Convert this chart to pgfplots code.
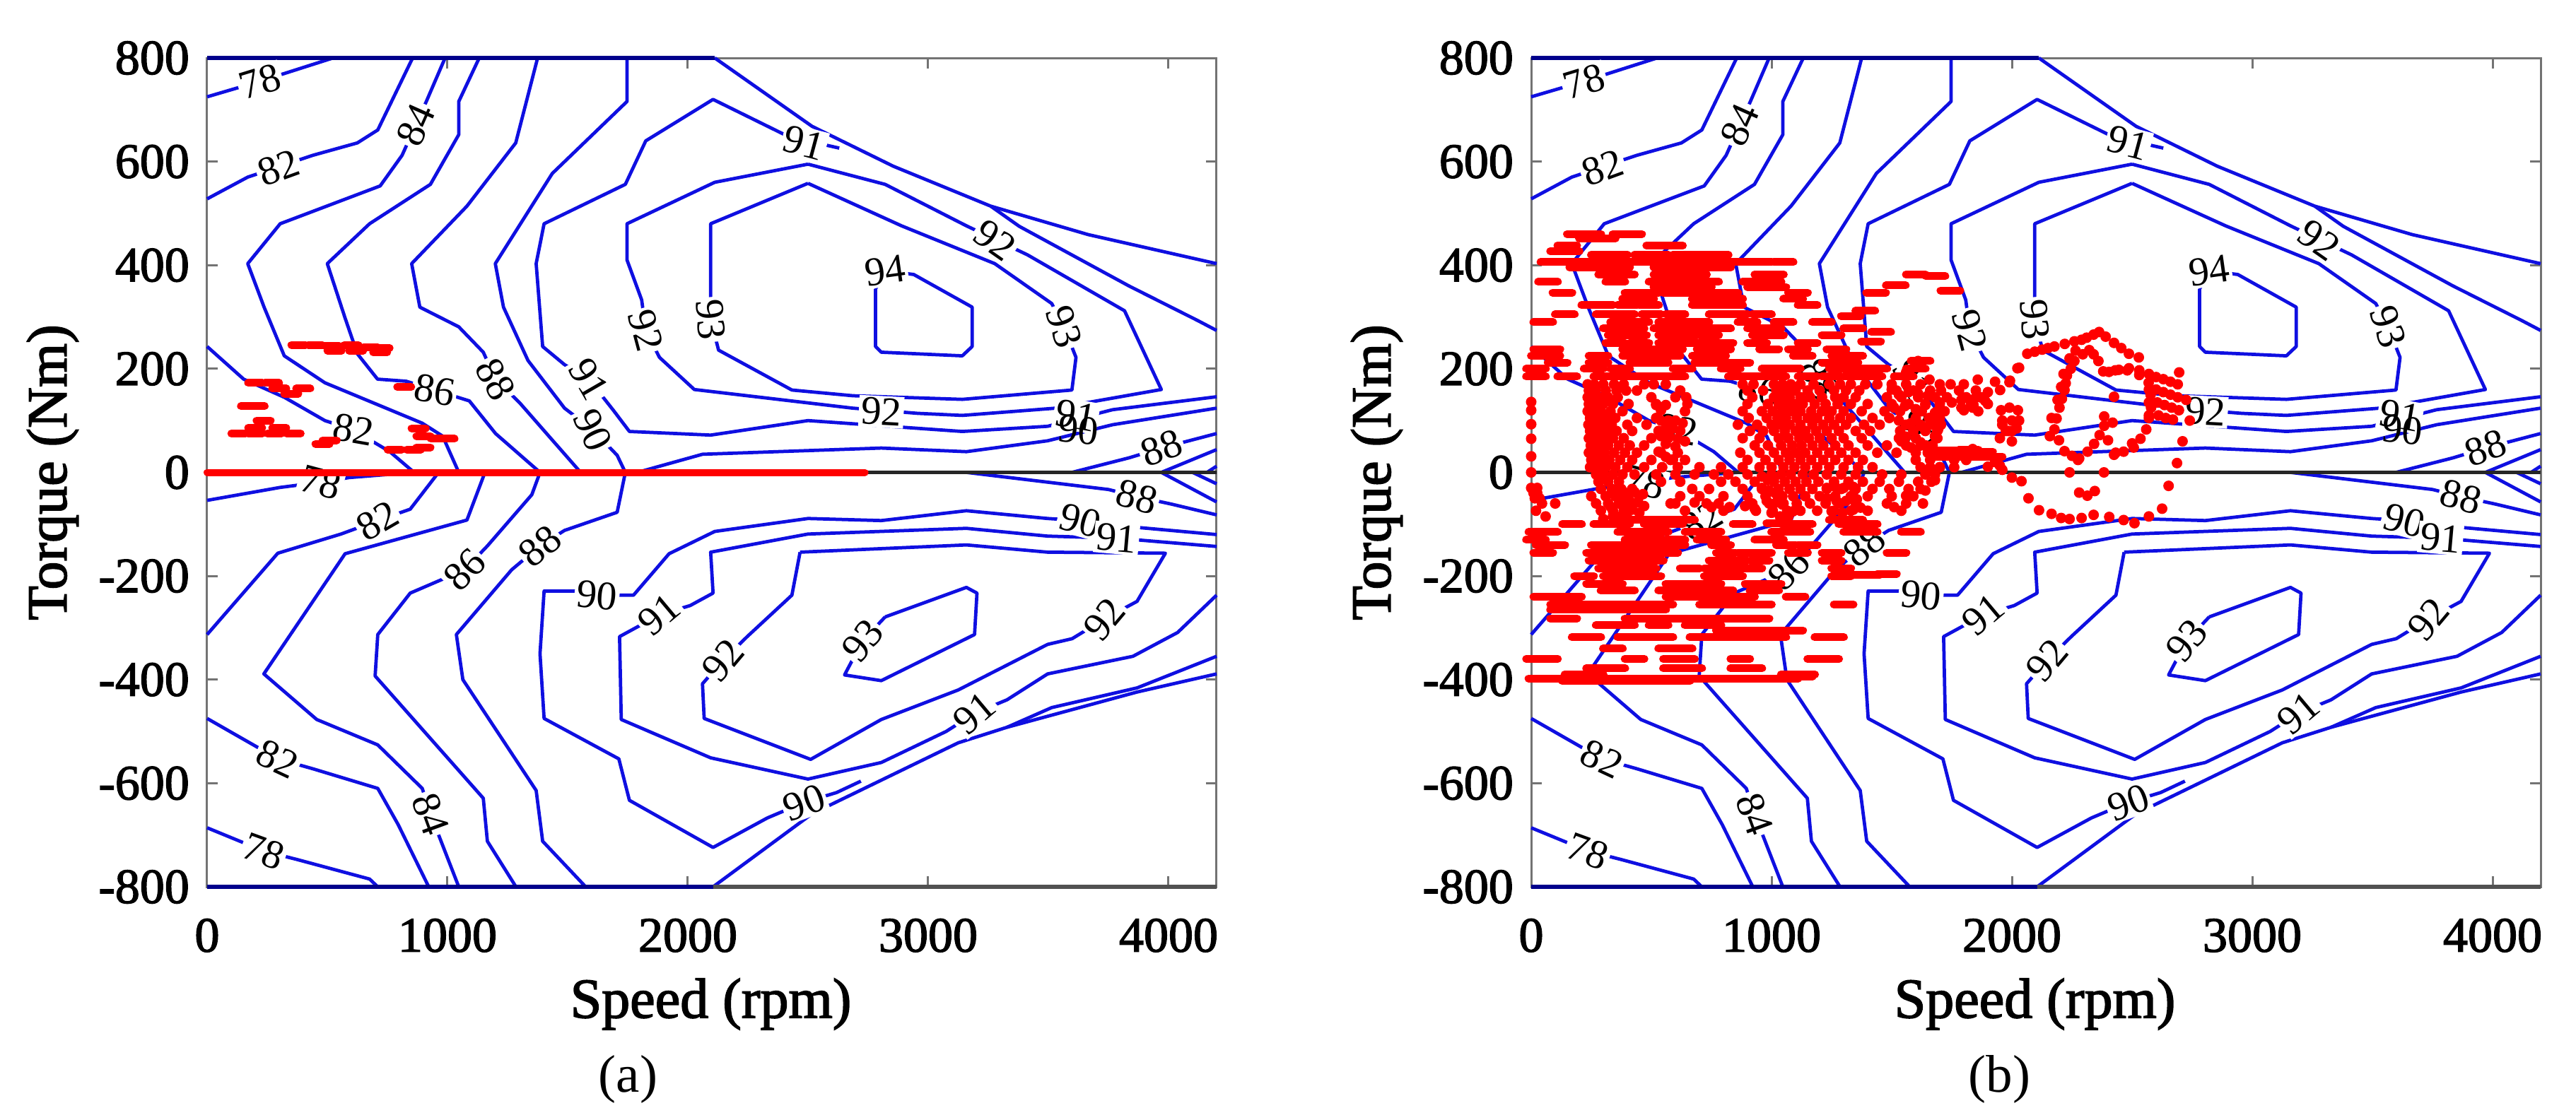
\documentclass[border=0pt]{standalone}
\usepackage{fontspec}
\usepackage{pgfplots}
\pgfplotsset{compat=1.18}
\setmainfont{Liberation Serif}
\newfontfamily\heavy[FakeBold=2]{Liberation Serif}
\definecolor{cblue}{RGB}{15,15,225}
\definecolor{cnavy}{RGB}{0,0,140}
\definecolor{cred}{RGB}{255,0,0}
\definecolor{frame}{RGB}{115,115,115}

\newcommand{\lbl}[4]{\node[font=\fontsize{11.5}{12}\selectfont, fill=white, inner sep=0.6pt, rotate=#3] at (axis cs:#1,#2) {#4};}

\pgfplotsset{
  cl/.style={line width=0.95pt, cblue, no marks, line join=round},
  panel/.style={
    scale only axis, width=285.6pt, height=234.6pt,
    xmin=0, xmax=4200, ymin=-800, ymax=800,
    xtick={0,1000,2000,3000,4000},
    xticklabels={0,1000,2000,3000,4000},
    ytick={-800,-600,-400,-200,0,200,400,600,800},
    yticklabels={-800,-600,-400,-200,0,200,400,600,800},
    tick align=inside, tick style={frame, line width=0.6pt}, major tick length=3pt,
    axis line style={frame, line width=0.6pt},
    tick label style={font=\heavy\fontsize{14}{15}\selectfont},
    xticklabel style={yshift=-5.5pt},
    yticklabel style={xshift=-1.5pt},
    label style={font=\heavy\fontsize{16}{17}\selectfont},
    xlabel={Speed (rpm)},
    ylabel={Torque (Nm)},
    xlabel style={at={(axis description cs:0.499,-0.1415)}, anchor=center},
    ylabel style={at={(axis description cs:-0.153,0.5)}, anchor=center},
    clip=false,
  },
  dash/.style={only marks, mark=-, cred, mark size=2.8pt, mark options={line width=2.2pt, line cap=round, cred}},
  dot/.style={only marks, mark=*, cred, mark size=1.3pt, mark options={cred, draw=cred, fill=cred}},
}

\newcommand{\contours}{
  % top half
  \addplot[cl] coordinates {(0,725)(220,755)(524,800)};
  \addplot[cl] coordinates {(0,528)(169,570)(439,612)(625,636)(710,661)(855,800)};
  \addplot[cl] coordinates {(990,800)(912,716)(811,612)(720,553)(304,480)(169,403)(237,319)(321,225)(490,173)(895,95)(980,70)(1047,0)};
  \addplot[cl] coordinates {(0,243)(152,180)(321,145)(490,100)(608,82)(760,40)(861,0)};
  \addplot[cl] coordinates {(1132,800)(1047,716)(1047,652)(929,556)(676,480)(500,403)(574,298)(625,229)(709,180)(828,176)(946,159)(1091,138)(1200,75)(1385,0)};
  \addplot[cl] coordinates {(1375,800)(1284,636)(1081,514)(851,403)(885,319)(1047,281)(1149,232)(1200,180)(1301,134)(1554,0)};
  \addplot[cl] coordinates {(1747,800)(1747,716)(1436,577)(1199,403)(1233,319)(1335,216)(1487,124)(1605,82)(1706,33)(1740,0)};
  \addplot[cl] coordinates {(2630,626)(2420,648)(2105,720)(1825,640)(1740,556)(1402,480)(1369,403)(1396,243)(1487,208)(1588,180)(1690,120)(1757,79)(2095,72)(2500,100)(3142,79)(3497,89)(3767,121)(4200,146)};
  \addplot[cl] coordinates {(1790,0)(2061,35)(2805,47)(3159,40)(3497,61)(3767,92)(4200,124)};
  \addplot[cl] coordinates {(2112,800)(2517,668)(2855,591)(3260,514)(3666,459)(4200,403)};
  \addplot[cl] coordinates {(3260,514)(3379,475)(3835,360)(4122,293)(4200,274)};
  \addplot[cl] coordinates {(2500,595)(2112,560)(1747,480)(1747,410)(1808,333)(1825,274)(1882,222)(2027,160)(2686,124)(2956,114)(3142,110)(3531,124)(3970,160)(3817,312)(3413,420)(3159,476)(2821,556)(2500,595)};
  \addplot[cl] coordinates {(2500,558)(2095,480)(2095,354)(2095,295)(2128,236)(2433,159)(2686,148)(3142,141)(3598,159)(3615,222)(3565,281)(3514,326)(3277,403)(2889,476)(2500,558)};
  \addplot[cl] coordinates {(2781,354)(2781,243)(2805,232)(3142,225)(3183,243)(3183,319)(2940,382)(2821,389)(2781,354)};
  \addplot[cl] coordinates {(3598,0)(3835,28)(3970,47)(4200,75)};
  \addplot[cl] coordinates {(3970,0)(4200,44)};
  \addplot[cl] coordinates {(4160,0)(4200,12)};
  \addplot[cl] coordinates {(3159,0)(3750,-33)(3869,-47)(4010,-61)(4200,-82)};
  \addplot[cl] coordinates {(3970,0)(4200,-57)};
  \addplot[cl] coordinates {(4100,0)(4200,-22)};
  % bottom half
  \addplot[cl] coordinates {(0,-54)(304,-29)(473,-19)(591,-10)(861,0)};
  \addplot[cl] coordinates {(963,0)(845,-71)(710,-93)(557,-119)(294,-156)(0,-313)};
  \addplot[cl] coordinates {(1156,0)(1081,-92)(574,-157)(236,-389)(456,-477)(710,-526)(895,-610)(929,-659)(980,-720)(1047,-800)};
  \addplot[cl] coordinates {(1385,0)(1351,-43)(1166,-142)(1071,-188)(845,-233)(710,-313)(699,-393)(1149,-629)(1166,-712)(1285,-800)};
  \addplot[cl] coordinates {(1740,0)(1706,-77)(1487,-112)(1385,-142)(1267,-188)(1037,-313)(1064,-400)(1369,-614)(1396,-712)(1575,-800)};
  \addplot[cl] coordinates {(0,-475)(294,-553)(439,-572)(710,-610)(795,-680)(922,-800)};
  \addplot[cl] coordinates {(0,-686)(236,-731)(372,-747)(676,-785)(710,-800)};
  \addplot[cl] coordinates {(3650,-97)(4200,-120)};
  \addplot[cl] coordinates {(3632,-93)(3497,-89)(3159,-74)(2805,-93)(2500,-89)(2112,-114)(1922,-157)(1774,-237)(1622,-237)(1536,-229)(1402,-229)(1385,-350)(1402,-475)(1713,-553)(1757,-633)(2105,-724)(2331,-667)(2484,-637)(2619,-618)(2720,-596)};
  \addplot[cl] coordinates {(2105,-800)(2517,-659)(3125,-522)(3328,-492)(3869,-424)(4200,-389)};
  \addplot[cl] coordinates {(3328,-492)(3514,-454)(3869,-416)(4200,-355)};
  \addplot[cl] coordinates {(4200,-143)(3784,-127)(3497,-123)(3159,-108)(2500,-119)(2095,-154)(2105,-233)(2010,-257)(1882,-275)(1716,-317)(1723,-477)(2095,-551)(2500,-592)(2805,-560)(3075,-500)(3193,-465)(3328,-439)(3497,-389)(3852,-355)(4038,-309)(4200,-237)};
  \addplot[cl] coordinates {(2467,-154)(3159,-140)(3497,-154)(3987,-156)(3869,-249)(3733,-283)(3599,-321)(3497,-332)(3125,-420)(2805,-477)(2511,-554)(2068,-475)(2061,-408)(2146,-363)(2247,-317)(2433,-237)(2467,-154)};
  \addplot[cl] coordinates {(2821,-279)(3159,-222)(3203,-233)(3193,-313)(2805,-402)(2652,-391)(2727,-325)(2821,-279)};
  % outer rims
  \addplot[line width=1.3pt, cnavy, no marks] coordinates {(0,800)(2112,800)};
  \addplot[line width=1.3pt, cnavy, no marks] coordinates {(0,-800)(2105,-800)};
  \addplot[line width=1.3pt, frame!70!black, no marks] coordinates {(2105,-800)(4200,-800)};
  \addplot[line width=1pt, black!85, no marks] coordinates {(0,0)(4200,0)};
  % contour labels
  \lbl{220}{755}{17}{78}
  \lbl{297}{588}{20}{82}
  \lbl{868}{671}{66}{84}
  \lbl{2821}{389}{8}{94}
  \lbl{2484}{636}{-15}{91}
  \lbl{3278}{448}{-35}{92}
  \lbl{3565}{281}{-72}{93}
  \lbl{1825}{274}{-75}{92}
  \lbl{2095}{295}{-85}{93}
  \lbl{946}{159}{-10}{86}
  \lbl{1200}{180}{-62}{88}
  \lbl{1588}{180}{-60}{91}
  \lbl{1605}{82}{-65}{90}
  \lbl{608}{82}{-10}{82}
  \lbl{2805}{117}{-3}{92}
  \lbl{3615}{110}{-10}{91}
  \node[font=\fontsize{11.5}{12}\selectfont, rotate=-5] at (axis cs:3625,82) {90};
  \lbl{3970}{47}{20}{88}
  \lbl{473}{-19}{-15}{78}
  \lbl{3869}{-47}{-15}{88}
  \lbl{710}{-93}{30}{82}
  \lbl{1071}{-188}{45}{86}
  \lbl{1385}{-142}{40}{88}
  \lbl{1622}{-237}{-5}{90}
  \lbl{1882}{-275}{40}{91}
  \lbl{2146}{-363}{50}{92}
  \lbl{2727}{-325}{50}{93}
  \lbl{3733}{-283}{50}{92}
  \lbl{3632}{-93}{-15}{90}
  \lbl{3784}{-127}{-5}{91}
  \lbl{3193}{-465}{40}{91}
  \lbl{294}{-553}{-25}{82}
  \lbl{929}{-659}{-70}{84}
  \lbl{236}{-731}{-20}{78}
  \lbl{2484}{-637}{20}{90}
}

\begin{document}
\begin{tikzpicture}[x=1pt,y=1pt]
\useasboundingbox (0,0) rectangle (728.8,316.8);

\begin{axis}[panel, at={(58.6pt,65.8pt)}, anchor=south west]
  \contours
  \addplot[dash, mark size=2pt] coordinates {
    (380,246)(450,246)(520,244)(600,246)(680,242)(730,240)
    (530,235)(620,235)(720,232)
    (200,173)(270,173)(300,162)(400,162)(350,152)(820,165)
    (170,128)(210,128)(235,100)
    (200,86)(300,86)(130,75)(200,75)(280,75)(360,75)
    (480,55)(510,62)(880,85)(900,70)(960,65)(1000,65)
    (780,44)(860,44)(900,48)
  };
  \addplot[line width=2pt, cred, no marks, line cap=round] coordinates {(0,0)(2737,0)};
  \node[font=\fontsize{15}{16}\selectfont] at (axis description cs:0.417,-0.232) {(a)};
\end{axis}

\begin{axis}[panel, at={(433.2pt,65.8pt)}, anchor=south west]
  \contours
  % horizontal runs of points, upper half
  \addplot[dash] coordinates {
    (190,460)(250,460)(380,460)(420,460) (240,452)(310,452)
    (150,438)(520,438)(590,438) (120,427)(160,427)
    (290,420)(360,420)(470,420)(530,420)(630,420)(710,420)(780,420)
    (80,406)(160,406)(240,406)(320,406)(400,406)(480,406)(560,406)(640,406)(720,406)(800,406)(880,406)(960,406)(1050,406)
    (200,396)(280,396)(370,396)(550,396)(630,396)(710,396)(790,396)
    (320,382)(390,382)(550,382)(620,382)(690,382)(970,382)(1010,382)
    (70,368)(350,368)(530,368)(610,368)(690,368)(740,368)(920,368)(1000,368)
    (550,358)(630,358)(710,358)(940,358)(1020,358)
    (130,347)(430,347)(490,347)(590,347)(670,347)(750,347)(820,347)(1110,347)
    (420,335)(470,335)(710,335)(790,335)(840,335)(1090,335)
    (250,323)(300,323)(400,323)(490,323)(710,323)(790,323)(840,323)(1150,323)
    (140,305)(310,305)(390,305)(500,305)(600,305)(780,305)(860,305)(960,305)
    (1330,302)(1390,312)(1435,347)(1517,361)(1600,382)(1682,379)(1744,351)
    (1340,278)(1456,271)(1414,253)
    (50,290)(370,290)(450,290)(570,290)(650,290)(700,290)(900,290)(1050,290)(1210,290)
    (340,278)(430,278)(550,278)(630,278)(710,278)(790,278)(940,278)(1000,278)
    (360,265)(440,265)(570,265)(650,265)(740,265)(960,265)(1010,265)(1250,265)
    (350,250)(450,250)(570,250)(650,250)(730,250)(800,250)(940,250)(1150,250)
    (50,238)(80,238)(420,238)(500,238)(590,238)(730,238)(790,238)(990,238)(1110,238)(1270,238)
    (40,225)(80,225)(280,225)(420,225)(500,225)(580,225)(710,225)(770,225)(1130,225)(1290,225)(1340,225)
    (110,212)(280,212)(450,212)(530,212)(720,212)(800,212)(870,212)(1250,212)(1320,212)(1620,215)
    (20,200)(260,200)(370,200)(630,200)(830,200)(1000,200)(1080,200)(1280,200)(1360,200)(1440,200)(1600,200)
    (20,185)(150,185)(300,185)(380,185)(460,185)(540,185)(600,185)(860,185)(940,185)(1020,185)(1150,185)(1250,185)(1340,185)(1420,185)(1550,185)
    (1700,42)(1760,42)(1820,44)(1880,40)(1700,30)(1780,30)(1850,30)(1920,30)
    (1340,-198)(1410,-198)(1480,-196)
  };
  % lower half
  \addplot[dash] coordinates {
    (170,-100)(300,-100)(370,-100)(510,-100)(590,-100)(880,-100)(1080,-100)(1130,-100)(1320,-100)(1400,-100)
    (430,-92)(510,-92)(590,-92)(640,-92)(1020,-98)(1280,-92)(1340,-92)
    (30,-115)(70,-115)(400,-115)(480,-115)(530,-115)(680,-115)(750,-115)(1040,-115)(1120,-115)(1340,-115)(1400,-115)(1580,-115)
    (20,-130)(430,-130)(510,-130)(600,-130)(730,-130)(770,-130)(970,-130)(1010,-130)
    (60,-140)(100,-140)(290,-140)(370,-140)(450,-140)(530,-140)(600,-140)(790,-140)(1060,-140)(1150,-140)
    (50,-155)(270,-155)(350,-155)(430,-155)(510,-155)(570,-155)(810,-155)(900,-155)(960,-155)(1110,-155)(1250,-155)(1520,-155)
    (280,-170)(360,-170)(440,-170)(510,-170)(780,-170)(860,-170)(950,-170)(1250,-170)
    (320,-185)(400,-185)(480,-185)(660,-185)(760,-185)(840,-185)(920,-185)(1290,-185)
    (220,-200)(340,-200)(420,-200)(500,-200)(760,-200)(840,-200)(1290,-200)
    (270,-215)(340,-215)(600,-215)(680,-215)(750,-215)(930,-215)(1000,-215)
    (330,-228)(390,-228)(570,-228)(650,-228)(730,-228)(800,-228)(950,-228)(990,-228)
    (50,-240)(120,-240)(170,-240)(600,-240)(680,-240)(760,-240)(830,-240)(890,-240)(1100,-240)
    (120,-255)(200,-255)(280,-255)(360,-255)(440,-255)(520,-255)(550,-255)(740,-255)(820,-255)(900,-255)(960,-255)(1300,-255)
    (120,-265)(200,-265)(280,-265)(360,-265)(440,-265)(520,-265)
    (120,-282)(150,-282)(430,-282)(510,-282)(560,-282)(640,-282)(720,-282)(800,-282)(880,-282)(950,-282)
    (310,-295)(390,-295)(530,-295)(680,-295)(750,-295)
    (810,-305)(890,-305)(970,-305)(1040,-305)(1090,-305)
    (210,-318)(250,-318)(400,-318)(480,-318)(550,-318)(700,-318)(780,-318)(860,-318)(940,-318)(1020,-318)(1220,-318)(1260,-318)
    (340,-340)(570,-340)(630,-340)
    (20,-360)(70,-360)(430,-360)(590,-360)(640,-360)(870,-360)(1190,-360)(1240,-360)
    (270,-378)(350,-378)(590,-378)(670,-378)(870,-378)(920,-378)
    (180,-390)(260,-390)(1080,-390)(1140,-390)
    (30,-398)(110,-398)(190,-398)(270,-398)(350,-398)(430,-398)(510,-398)(590,-398)(670,-398)(750,-398)(830,-398)(910,-398)(990,-398)(1070,-398)(1130,-394)
    (170,-403)(250,-403)(330,-403)(410,-403)(490,-403)(570,-403)(620,-403)
  };
  % scattered points around zero torque
  \addplot[dot] coordinates {
    (235,170)(262,170)(300,170)(345,170)(385,170)(470,170)(510,170)(560,170)(880,170)(925,170)(1010,170)(1045,170)(1080,170)(1120,170)(1175,170)(1240,170)(1285,170)(1330,170)(1390,170)(1440,170)(1500,170)(1560,170)(1620,170)(1700,170)(1745,170)(1800,170)
    (240,158)(268,158)(310,158)(355,158)(395,158)(440,158)(620,158)(900,158)(965,158)(1020,158)(1060,158)(1100,158)(1150,158)(1200,158)(1260,158)(1310,158)(1365,158)(1520,158)(1590,158)(1660,158)(1705,158)(1780,158)(1850,158)
    (235,145)(255,145)(280,145)(320,145)(360,145)(500,145)(600,145)(645,145)(920,145)(1010,145)(1040,145)(1075,145)(1120,145)(1160,145)(1210,145)(1265,145)(1300,145)(1350,145)(1480,145)(1540,145)(1610,145)(1680,145)(1730,145)(1810,145)(1870,145)
    (240,132)(272,132)(300,132)(340,132)(405,132)(520,132)(650,132)(900,132)(985,132)(1030,132)(1060,132)(1095,132)(1130,132)(1180,132)(1225,132)(1275,132)(1330,132)(1400,132)(1500,132)(1570,132)(1640,132)(1700,132)(1830,132)(1900,132)
    (235,118)(258,118)(290,118)(330,118)(380,118)(640,118)(880,118)(960,118)(1005,118)(1045,118)(1085,118)(1120,118)(1165,118)(1210,118)(1250,118)(1300,118)(1375,118)(1470,118)(1535,118)(1625,118)(1690,118)(1720,118)(1860,118)
    (245,105)(275,105)(310,105)(350,105)(440,105)(520,105)(905,105)(980,105)(1025,105)(1060,105)(1105,105)(1150,105)(1190,105)(1240,105)(1285,105)(1330,105)(1420,105)(1490,105)(1600,105)(1655,105)(1700,105)
    (238,92)(262,92)(295,92)(335,92)(400,92)(480,92)(860,92)(940,92)(1000,92)(1040,92)(1075,92)(1120,92)(1170,92)(1215,92)(1260,92)(1310,92)(1385,92)(1450,92)(1560,92)(1620,92)(1660,92)(1705,92)(1960,92)
    (245,80)(280,80)(315,80)(355,80)(420,80)(530,80)(910,80)(965,80)(1010,80)(1055,80)(1100,80)(1140,80)(1185,80)(1230,80)(1280,80)(1350,80)(1410,80)(1535,80)(1590,80)(1640,80)(1690,80)(1975,80)(2000,80)
    (240,66)(265,66)(300,66)(340,66)(385,66)(500,66)(570,66)(880,66)(950,66)(1030,66)(1070,66)(1115,66)(1155,66)(1200,66)(1250,66)(1300,66)(1375,66)(1530,66)(1600,66)(1690,66)(1950,66)
    (248,52)(280,52)(320,52)(365,52)(410,52)(470,52)(930,52)(985,52)(1040,52)(1085,52)(1125,52)(1170,52)(1215,52)(1265,52)(1320,52)(1400,52)(1480,52)(1560,52)(1620,52)(1670,52)
    (240,38)(270,38)(305,38)(345,38)(390,38)(440,38)(540,38)(610,38)(870,38)(950,38)(1010,38)(1060,38)(1100,38)(1140,38)(1190,38)(1240,38)(1290,38)(1350,38)(1440,38)(1520,38)(1600,38)(1650,38)
    (250,24)(285,24)(325,24)(370,24)(420,24)(500,24)(580,24)(640,24)(900,24)(975,24)(1030,24)(1075,24)(1120,24)(1165,24)(1215,24)(1265,24)(1320,24)(1380,24)(1600,24)(1660,24)(1760,24)(1810,24)
    (245,10)(275,10)(310,10)(350,10)(400,10)(470,10)(545,10)(610,10)(700,10)(790,10)(880,10)(950,10)(1000,10)(1050,10)(1095,10)(1140,10)(1190,10)(1240,10)(1300,10)(1360,10)(1420,10)(1620,10)(1660,10)(1700,10)(1760,10)
    (270,-4)(300,-4)(340,-4)(380,-4)(430,-4)(520,-4)(600,-4)(680,-4)(760,-4)(820,-4)(900,-4)(1000,-4)(1040,-4)(1080,-4)(1130,-4)(1175,-4)(1230,-4)(1290,-4)(1350,-4)(1460,-4)(1540,-4)(1640,-4)(1680,-4)
    (280,-18)(320,-18)(365,-18)(540,-18)(620,-18)(790,-18)(850,-18)(930,-18)(1010,-18)(1055,-18)(1100,-18)(1145,-18)(1195,-18)(1260,-18)(1320,-18)(1380,-18)(1450,-18)(1530,-18)(1610,-18)(1665,-18)
    (290,-32)(335,-32)(375,-32)(420,-32)(670,-32)(740,-32)(880,-32)(960,-32)(1030,-32)(1075,-32)(1120,-32)(1170,-32)(1230,-32)(1290,-32)(1350,-32)(1420,-32)(1490,-32)(1570,-32)(1620,-32)
    (250,-46)(310,-46)(350,-46)(395,-46)(450,-46)(620,-46)(700,-46)(800,-46)(900,-46)(975,-46)(1045,-46)(1090,-46)(1140,-46)(1200,-46)(1265,-46)(1330,-46)(1400,-46)(1500,-46)(1590,-46)
    (100,-60)(270,-60)(320,-60)(365,-60)(410,-60)(580,-60)(780,-60)(920,-60)(990,-60)(1050,-60)(1105,-60)(1160,-60)(1225,-60)(1285,-60)(1350,-60)(1480,-60)(1560,-60)
    (290,-74)(340,-74)(385,-74)(640,-74)(800,-74)(935,-74)(1005,-74)(1065,-74)(1120,-74)(1190,-74)(1260,-74)(1330,-74)(1400,-74)(1540,-74)
    (20,-74)(15,-50)(8,-35)(25,-40)(45,-60)(60,-85)
    (0,136)(0,120)(0,93)(0,65)(0,31)(0,0)(0,-30)(10,-40)(25,-30)(35,-50)
    % blobs picked out of the closer crops
    (540,100)(570,100)(600,100)(630,95)(560,85)(590,85)(620,80)(540,70)(575,70)(610,65)(640,60)(560,55)(600,50)(530,40)(560,30)(590,25)(520,130)(560,130)(540,120)
    (365,-35)(395,-40)(430,-38)(465,-42)(375,-52)(410,-55)(445,-58)(470,-65)(385,-68)(420,-72)(450,-78)(340,-85)(300,-90)(370,-85)(400,-88)(330,-66)
    (600,-60)(680,-58)(730,-60)(750,-67)(825,-67)(890,-65)(930,-70)
    (960,-8)(985,-15)(1010,-12)(960,-30)(990,-35)(1015,-40)(980,-55)(1020,-58)(1045,-62)(1000,-78)(1035,-85)(1070,-85)(1090,-75)
    (1230,-30)(1265,-28)(1300,-30)(1340,-28)(1230,-50)(1270,-55)(1310,-55)(1355,-52)(1250,-75)(1295,-78)(1340,-72)(1370,-68)
    (1500,160)(1530,150)(1570,155)(1610,152)(1650,148)(1510,125)(1555,128)(1600,122)(1640,130)(1680,115)(1530,100)(1580,95)(1630,88)(1670,92)(1540,60)(1620,58)(1660,48)(1680,70)(1560,193)(1610,215)(1657,179)(1858,179)
  };
  % trail and rings on the right
  \addplot[dot] coordinates {
    (1837,125)(1889,138)(1951,159)(1992,177)(2023,201)(2064,229)(2095,233)(2126,237)(2150,240)(2177,243)(2220,248)(2260,253)(2290,256)(2311,260)(2340,266)(2363,271)(2390,262)(2425,250)(2455,240)(2487,229)(2528,222)
    (2322,236)(2295,228)(2260,215)(2245,200)(2229,187)(2224,172)(2219,159)(2208,142)(2198,125)(2186,104)(2177,83)(2196,62)(2219,41)(2250,32)(2280,27)(2315,40)(2342,55)(2365,72)(2384,90)(2400,62)(2425,34)(2465,40)(2507,48)(2535,65)(2559,83)(2570,105)(2579,125)(2577,150)(2569,173)(2530,188)(2487,201)(2445,198)(2404,194)(2360,215)(2340,228)
    (2265,235)(2240,220)(2215,190)(2205,165)(2190,140)(2165,105)(2158,70)
    (2380,195)(2430,197)(2480,197)(2530,197)(2570,190)(2570,160)(2570,135)(2570,110)
    (2600,184)(2630,180)(2660,175)(2690,170)(2600,160)(2630,155)(2660,150)(2690,145)(2605,135)(2635,130)(2665,125)(2695,120)(2610,110)(2640,105)(2670,102)(2696,193)
    (2725,140)(2740,100)(2710,60)(2687,18)(2652,-26)
    (2384,108)(2425,146)(2419,96)(2280,-39)(2314,-45)(2345,-36)(2383,0)(2240,0)
    (1950,13)(1900,11)(1960,5)(2000,-10)(2040,-17)(2069,-50)(2113,-73)(2165,-80)(2205,-88)(2240,-90)(2290,-88)(2340,-82)(2405,-86)(2465,-92)(2510,-98)(2570,-85)(2625,-70)
    (2432,38)(2500,56)(2275,24)
    (1672,34)(1745,34)(1837,45)(1889,34)(1930,20)(1700,10)(1680,-15)(1640,-35)(1560,-45)(1630,-60)(1510,-67)
    (1704,118)(1693,83)(1641,52)(1580,48)(1559,69)(1620,90)(1693,104)
    (1700,135)(1750,135)(1790,125)(1840,130)(1790,140)(1850,145)(1800,120)(1870,145)(1900,155)(1930,175)(1990,174)(2030,202)
    (1955,120)(1990,125)(2025,120)(1960,100)(2000,100)(2030,100)(1985,80)(2020,85)(2000,60)
  };
  \node[font=\fontsize{15}{16}\selectfont] at (axis description cs:0.464,-0.232) {(b)};
\end{axis}
\end{tikzpicture}
\end{document}
